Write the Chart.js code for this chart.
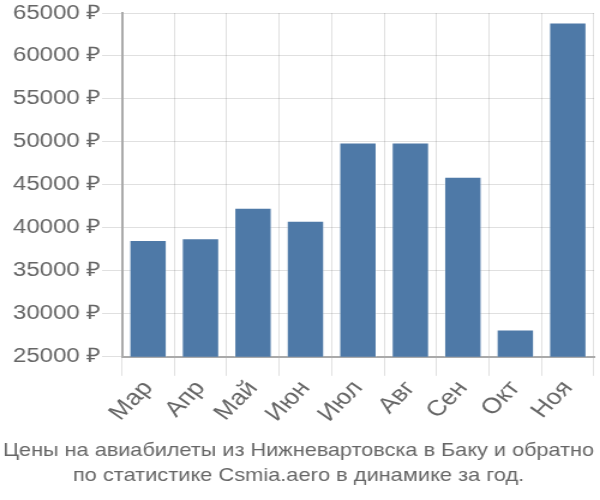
<!DOCTYPE html>
<html><head><meta charset="utf-8">
<script src="https://cdn.jsdelivr.net/npm/chart.js@4/dist/chart.umd.min.js"></script>
<style>html,body{margin:0;padding:0;background:#fff;overflow:hidden}#w{width:500px;height:500px;transform:scale(1.2,1);transform-origin:0 0}</style>
</head><body><div id="w"><canvas id="c"></canvas></div>
<script>
const categories = ["Мар","Апр","Май","Июн","Июл","Авг","Сен","Окт","Ноя"];
const prices = [38600, 38800, 42350, 40830, 49930, 49950, 45950, 28170, 63900];
const titleLines = ["Цены на авиабилеты из Нижневартовска в Баку и обратно","по статистике Csmia.aero в динамике за год."];
const yMin = 25000, yMax = 65000, yStep = 5000;

Chart.defaults.font.family = "'Liberation Sans', Arial, sans-serif";
Chart.defaults.color = "#666";
new Chart(document.getElementById('c'), {
  type: 'bar',
  data: { labels: categories, datasets: [{ data: prices, backgroundColor: '#4e79a7', borderColor: 'rgba(255,255,255,0.25)', borderWidth: 1 }] },
  options: {
    responsive: true, maintainAspectRatio: false, animation: false,
    layout: { padding: { left: 2.5, right: 5, top: 5, bottom: 0 } },
    plugins: {
      legend: { display: false }, tooltip: { enabled: false },
      title: { display: true, text: titleLines, position: 'bottom', font: { size: 18.2, weight: 'normal', lineHeight: 1.35 }, color: '#666', padding: { top: 6, bottom: 12 } }
    },
    scales: {
      x: { ticks: { font: { size: 22 }, color: '#666', maxRotation: 50, minRotation: 50, padding: 0 },
           grid: { color: 'rgba(0,0,0,0.12)', tickLength: 19, offset: true },
           border: { color: '#aaa', width: 2 },
           afterFit: s => { s.height = 76; } },
      y: { min: yMin, max: yMax, ticks: { stepSize: yStep, font: { size: 20 }, color: '#666', padding: 1, callback: v => v + ' ₽' },
           grid: { color: 'rgba(0,0,0,0.12)', tickLength: 16.5 },
           border: { color: '#aaa', width: 2 },
           afterFit: s => { s.width = 99; } }
    }
  }
});
</script></body></html>
